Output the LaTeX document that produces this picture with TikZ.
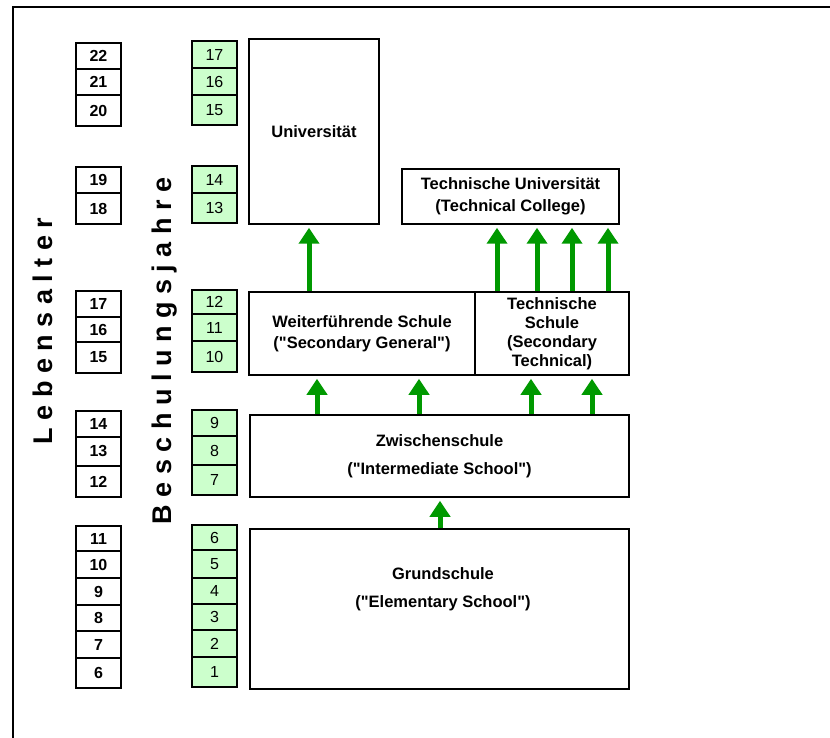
\documentclass[tikz,border=0pt]{standalone}
\usepackage{fontspec}
\setmainfont{Liberation Sans}[Ligatures=TeXOff]
\usetikzlibrary{arrows.meta}
\definecolor{yeargreen}{RGB}{204,255,204}
\definecolor{arrowgreen}{RGB}{0,153,0}
\begin{document}
\begin{tikzpicture}[x=1pt, y=-1pt,
    schoolbox/.style={draw, line width=1.5pt, inner sep=0pt, align=center,
        font=\fontsize{16.5}{21}\selectfont\bfseries},
    agebox/.style={draw, line width=1.5pt, minimum width=45, inner sep=0pt,
        font=\fontsize{16}{16}\selectfont\bfseries},
    yearbox/.style={agebox, fill=yeargreen, font=\fontsize{16}{16}\selectfont},
    vlabel/.style={rotate=90, anchor=base, inner sep=0pt,
        font=\fontsize{27}{27}\selectfont\bfseries},
    uparrow/.style={arrowgreen, line width=5pt, shorten >=3pt,
        -{Triangle[width=20pt, length=16pt]}}]
    \useasboundingbox (0,0) rectangle (830,738);
    % outer frame, only top and left edges visible
    \draw[line width=2.5pt] (840,7) -- (13,7) -- (13,750);

    % age and school year columns
    \node[vlabel] (alter) at (52,331) {L e b e n s a l t e r};
    \node[vlabel] (jahre) at (171,351) {B e s c h u l u n g s j a h r e};
    \foreach \n/\t/\b in {22/43/69, 21/69/95, 20/95/126, 19/167/193, 18/193/224,
        17/291/317, 16/317/342, 15/342/373, 14/411/437, 13/437/466, 12/466/497,
        11/526/551, 10/551/578, 9/578/605, 8/605/631, 7/631/658, 6/658/688}
        \node[agebox, minimum height={\b-\t}] (age\n) at (98.5,{(\t+\b)/2}) {\n};
    \foreach \n/\t/\b in {17/41/68, 16/68/95, 15/95/125, 14/166/193, 13/193/223,
        12/290/314, 11/314/341, 10/341/372, 9/410/436, 8/436/465, 7/465/495,
        6/525/550, 5/550/578, 4/578/604, 3/604/630, 2/630/657, 1/657/687}
        \node[yearbox, minimum height={\b-\t}] (yr\n) at (214.5,{(\t+\b)/2}) {\n};

    % schools
    \node[schoolbox, minimum width=130, minimum height=185] (uni) at (314,131.5) {Universität};
    \node[schoolbox, minimum width=217, minimum height=55,
        font=\fontsize{16.5}{22}\selectfont\bfseries] (tu) at (510.5,196.5)
        {Technische Universität\\(Technical College)};
    \node[schoolbox, minimum width=226, minimum height=83] (weiter) at (362,333.5)
        {Weiterführende Schule\\("Secondary General")};
    \node[schoolbox, minimum width=154, minimum height=83,
        font=\fontsize{16.5}{19}\selectfont\bfseries] (techs) at (552,333.5)
        {Technische\\Schule\\(Secondary\\Technical)};
    \node[schoolbox, minimum width=379, minimum height=82,
        font=\fontsize{16.5}{28}\selectfont\bfseries] (zwischen) at (439.5,456)
        {Zwischenschule\\("Intermediate School")};
    \node[schoolbox, minimum width=379, minimum height=160] (grund) at (439.5,609) {};
    \node[align=center, font=\fontsize{16.5}{28}\selectfont\bfseries] (grundtxt) at (443,589)
        {Grundschule\\("Elementary School")};

    % transitions
    \draw[uparrow] (440,0 |- grund.north) -- (440,0 |- zwischen.south);
    \foreach \x in {317,419}
        \draw[uparrow] (\x,0 |- zwischen.north) -- (\x,0 |- weiter.south);
    \foreach \x in {531,592}
        \draw[uparrow] (\x,0 |- zwischen.north) -- (\x,0 |- techs.south);
    \draw[uparrow] (309,0 |- weiter.north) -- (309,0 |- uni.south);
    \foreach \x in {497,537,572,608}
        \draw[uparrow] (\x,0 |- techs.north) -- (\x,0 |- tu.south);
\end{tikzpicture}
\end{document}
